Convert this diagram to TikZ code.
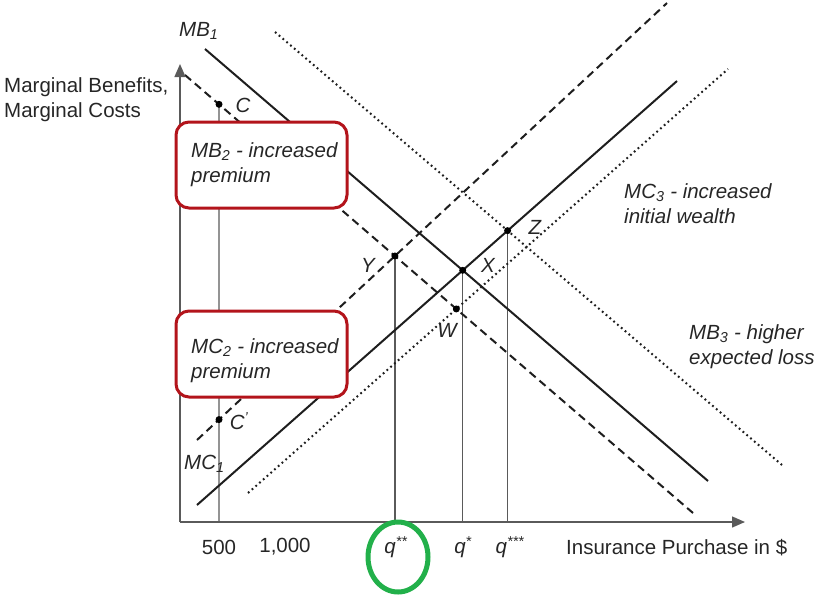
\documentclass[tikz,border=0pt]{standalone}
\usepackage{fontspec}
\setmainfont{Liberation Sans}
\usetikzlibrary{arrows.meta}
\definecolor{boxred}{HTML}{B3141B}
\definecolor{ovalgreen}{HTML}{22B04A}
\definecolor{axisgray}{HTML}{5A5A5A}
\definecolor{curve}{HTML}{1E1E1E}
\begin{document}
\begin{tikzpicture}[x=1pt,y=-1pt,
  every node/.style={font=\fontsize{20.5}{24}\selectfont, inner sep=0pt, text=black!85},
  lbl/.style={font=\fontsize{20.5}{24}\selectfont\itshape},
  curvesolid/.style={draw=curve, line width=2pt},
  curvedash/.style={draw=curve, line width=2pt, dash pattern=on 8pt off 5pt},
  curvedot/.style={draw=curve, line width=2pt, dash pattern=on 1.8pt off 3.2pt},
  axis/.style={draw=axisgray, line width=1.4pt, -{Triangle[length=13pt,width=11pt]}},
  guide/.style={draw=axisgray, line width=1.2pt},
  pt/.style={circle, fill=black, inner sep=0pt, minimum size=7pt},
  redbox/.style={draw=boxred, line width=3pt, rounded corners=13pt, fill=white},
  twoline/.style={align=left, anchor=west, font=\fontsize{20.5}{25}\selectfont\itshape}]
\useasboundingbox (0,0) rectangle (818,597);
% axes
\coordinate (O) at (180,522);
\coordinate (ytop) at (180,64);
\coordinate (xend) at (745,522);
% curve end points
\coordinate (mb1a) at (205,49);  \coordinate (mb1b) at (708,481);
\coordinate (mc1a) at (197,505); \coordinate (mc1b) at (677,81);
\coordinate (mb2a) at (185,75);  \coordinate (mb2b) at (693,513);
\coordinate (mc2a) at (197,440); \coordinate (mc2b) at (667,3);
\coordinate (mc3a) at (248,493); \coordinate (mc3b) at (728,69);
\coordinate (mb3a) at (275,32);  \coordinate (mb3b) at (782,465);
\coordinate (v5b) at (219,522);  \coordinate (v5t) at (219,0);
% intersections
\coordinate (X) at (intersection of mb1a--mb1b and mc1a--mc1b);
\coordinate (Y) at (intersection of mb2a--mb2b and mc2a--mc2b);
\coordinate (Z) at (intersection of mb3a--mb3b and mc1a--mc1b);
\coordinate (W) at (intersection of mb2a--mb2b and mc3a--mc3b);
\coordinate (C) at (intersection of mb2a--mb2b and v5b--v5t);
\coordinate (Cp) at (intersection of mc2a--mc2b and v5b--v5t);
% guide verticals
\draw[guide] (v5b) -- (C);
\draw[guide] (Y |- O) -- (Y);
\draw[guide] (X |- O) -- (X);
\draw[guide] (Z |- O) -- (Z);
% curves
\draw[curvesolid] (mb1a) -- (mb1b);
\draw[curvesolid] (mc1a) -- (mc1b);
\draw[curvedash] (mb2a) -- (mb2b);
\draw[curvedash] (mc2a) -- (mc2b);
\draw[curvedot] (mc3a) -- (mc3b);
\draw[curvedot] (mb3a) -- (mb3b);
% axes
\draw[axis] (O) -- (ytop);
\draw[axis] (O) -- (xend);
% points
\node[pt] (pC) at (C) {};
\node[pt] (pCp) at (Cp) {};
\node[pt] (pX) at (X) {};
\node[pt] (pY) at (Y) {};
\node[pt] (pZ) at (Z) {};
\node[pt] (pW) at (W) {};
\node[lbl] (lC) at (243,105) {C};
\node[lbl] (lCp) at (239,421) {C\textsuperscript{'}};
\node[lbl] (lY) at (368,265) {Y};
\node[lbl] (lX) at (488,265) {X};
\node[lbl] (lZ) at (535,227) {Z};
\node[lbl] (lW) at (447,330) {W};
% boxes
\node[redbox, minimum width=171pt, minimum height=86pt] (box1) at (261.5,165) {};
\node[twoline] (t1) at (191,165) {MB\textsubscript{2} - increased\\premium};
\node[redbox, minimum width=171pt, minimum height=86pt] (box2) at (261.5,354) {};
\node[twoline] (t2) at (191,361) {MC\textsubscript{2} - increased\\premium};
% curve labels
\node[lbl, anchor=west] (lmb1) at (179,31) {MB\textsubscript{1}};
\node[lbl, anchor=west] (lmc1) at (184,464) {MC\textsubscript{1}};
\node[twoline] (lmc3) at (624,204) {MC\textsubscript{3} - increased\\initial wealth};
\node[twoline] (lmb3) at (689,347) {MB\textsubscript{3} - higher\\expected loss};
\node[align=left, anchor=west, font=\fontsize{20.5}{25}\selectfont] (ylab) at (4,100) {Marginal Benefits,\\Marginal Costs};
% x labels
\node (l500) at (219,547) {500};
\node (l1000) at (285,547) {1,000};
\node[lbl] (lq2) at (396,547) {q\textsuperscript{**}};
\node[lbl] (lq1) at (463,547) {q\textsuperscript{*}};
\node[lbl] (lq3) at (510,547) {q\textsuperscript{***}};
\node[anchor=west] (xlab) at (566,548) {Insurance Purchase in \$};
% green oval
\draw[ovalgreen, line width=5pt] (398,557) ellipse [x radius=30pt, y radius=35pt];
\end{tikzpicture}
\end{document}
